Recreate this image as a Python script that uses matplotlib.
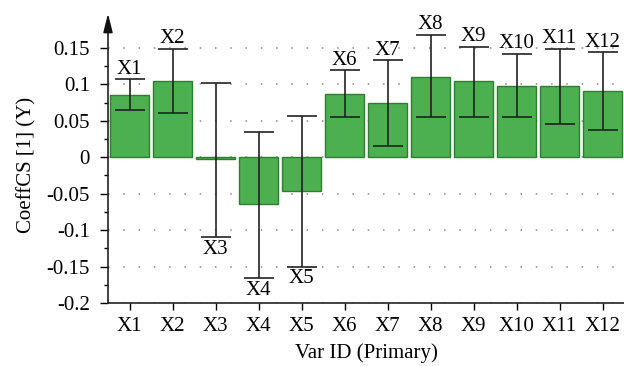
import matplotlib
matplotlib.use("Agg")
import matplotlib.pyplot as plt
from matplotlib.ticker import MultipleLocator, FuncFormatter

categories = ["X1", "X2", "X3", "X4", "X5", "X6", "X7", "X8", "X9", "X10", "X11", "X12"]
values = [0.085, 0.105, -0.003, -0.064, -0.046, 0.0865, 0.0737, 0.110, 0.104, 0.0975, 0.098, 0.0907]
err_low = [0.065, 0.060, -0.110, -0.166, -0.150, 0.0554, 0.0155, 0.0554, 0.0554, 0.0554, 0.046, 0.0375]
err_high = [0.107, 0.149, 0.102, 0.035, 0.057, 0.119, 0.133, 0.168, 0.1515, 0.142, 0.149, 0.1437]

plt.rcParams["font.family"] = ["Liberation Serif", "DejaVu Serif"]
plt.rcParams["axes.unicode_minus"] = False
FS = 15

fig = plt.figure(figsize=(6.24, 3.66), dpi=100)
ax = fig.add_axes([108 / 624, 1 - 303 / 366, 1 - 108 / 624, (303 - 26) / 366])

x = list(range(1, len(categories) + 1))
yerr = [[v - lo for v, lo in zip(values, err_low)], [hi - v for v, hi in zip(values, err_high)]]
ax.bar(x, values, width=0.9, color="#4caf50", edgecolor="#2e7d32", linewidth=1.0, zorder=2)
ax.errorbar(x, values, yerr=yerr, fmt="none", ecolor="#222222", elinewidth=1.2,
            capsize=11, capthick=1.2, zorder=3)

for xi, v, lo, hi, c in zip(x, values, err_low, err_high, categories):
    if v >= 0:
        ax.annotate(c, (xi, hi), xytext=(0, 0.5), textcoords="offset points",
                    ha="center", va="bottom", fontsize=FS)
    else:
        ax.annotate(c, (xi, lo), xytext=(0, -2), textcoords="offset points",
                    ha="center", va="top", fontsize=FS)

ax.set_xlim(0.5, 12.5)
ax.set_ylim(-0.2, 0.18)
ax.set_xticks(x)
ax.set_xticklabels(categories, fontsize=FS)
ax.yaxis.set_major_locator(MultipleLocator(0.05))
ax.yaxis.set_minor_locator(MultipleLocator(0.025))
ax.yaxis.set_major_formatter(FuncFormatter(lambda v, p: "%g" % round(v, 4)))
ax.tick_params(axis="y", which="major", length=6, width=1.0, labelsize=FS, pad=7)
ax.tick_params(axis="y", which="minor", length=3, width=1.0)
ax.tick_params(axis="x", which="major", length=5, width=1.0, labelsize=FS, pad=5)

ax.grid(axis="y", which="major", color="#888888", linestyle=(0, (1, 9)), linewidth=1.1, zorder=0)
ax.set_axisbelow(True)

for s in ["top", "right"]:
    ax.spines[s].set_visible(False)
for s in ["left", "bottom"]:
    ax.spines[s].set_linewidth(1.2)
    ax.spines[s].set_color("#222222")

ax.annotate("", xy=(0, 1.045), xytext=(0, 0.98), xycoords="axes fraction",
            arrowprops=dict(arrowstyle="-|>,head_length=0.8,head_width=0.2", color="#111111",
                            lw=1.2, mutation_scale=14, shrinkA=0, shrinkB=0))

ax.set_xlabel("Var ID (Primary)", fontsize=FS, labelpad=5)
ax.set_ylabel("CoeffCS [1] (Y)", fontsize=FS, labelpad=7)

fig.savefig("out.png", dpi=100)
